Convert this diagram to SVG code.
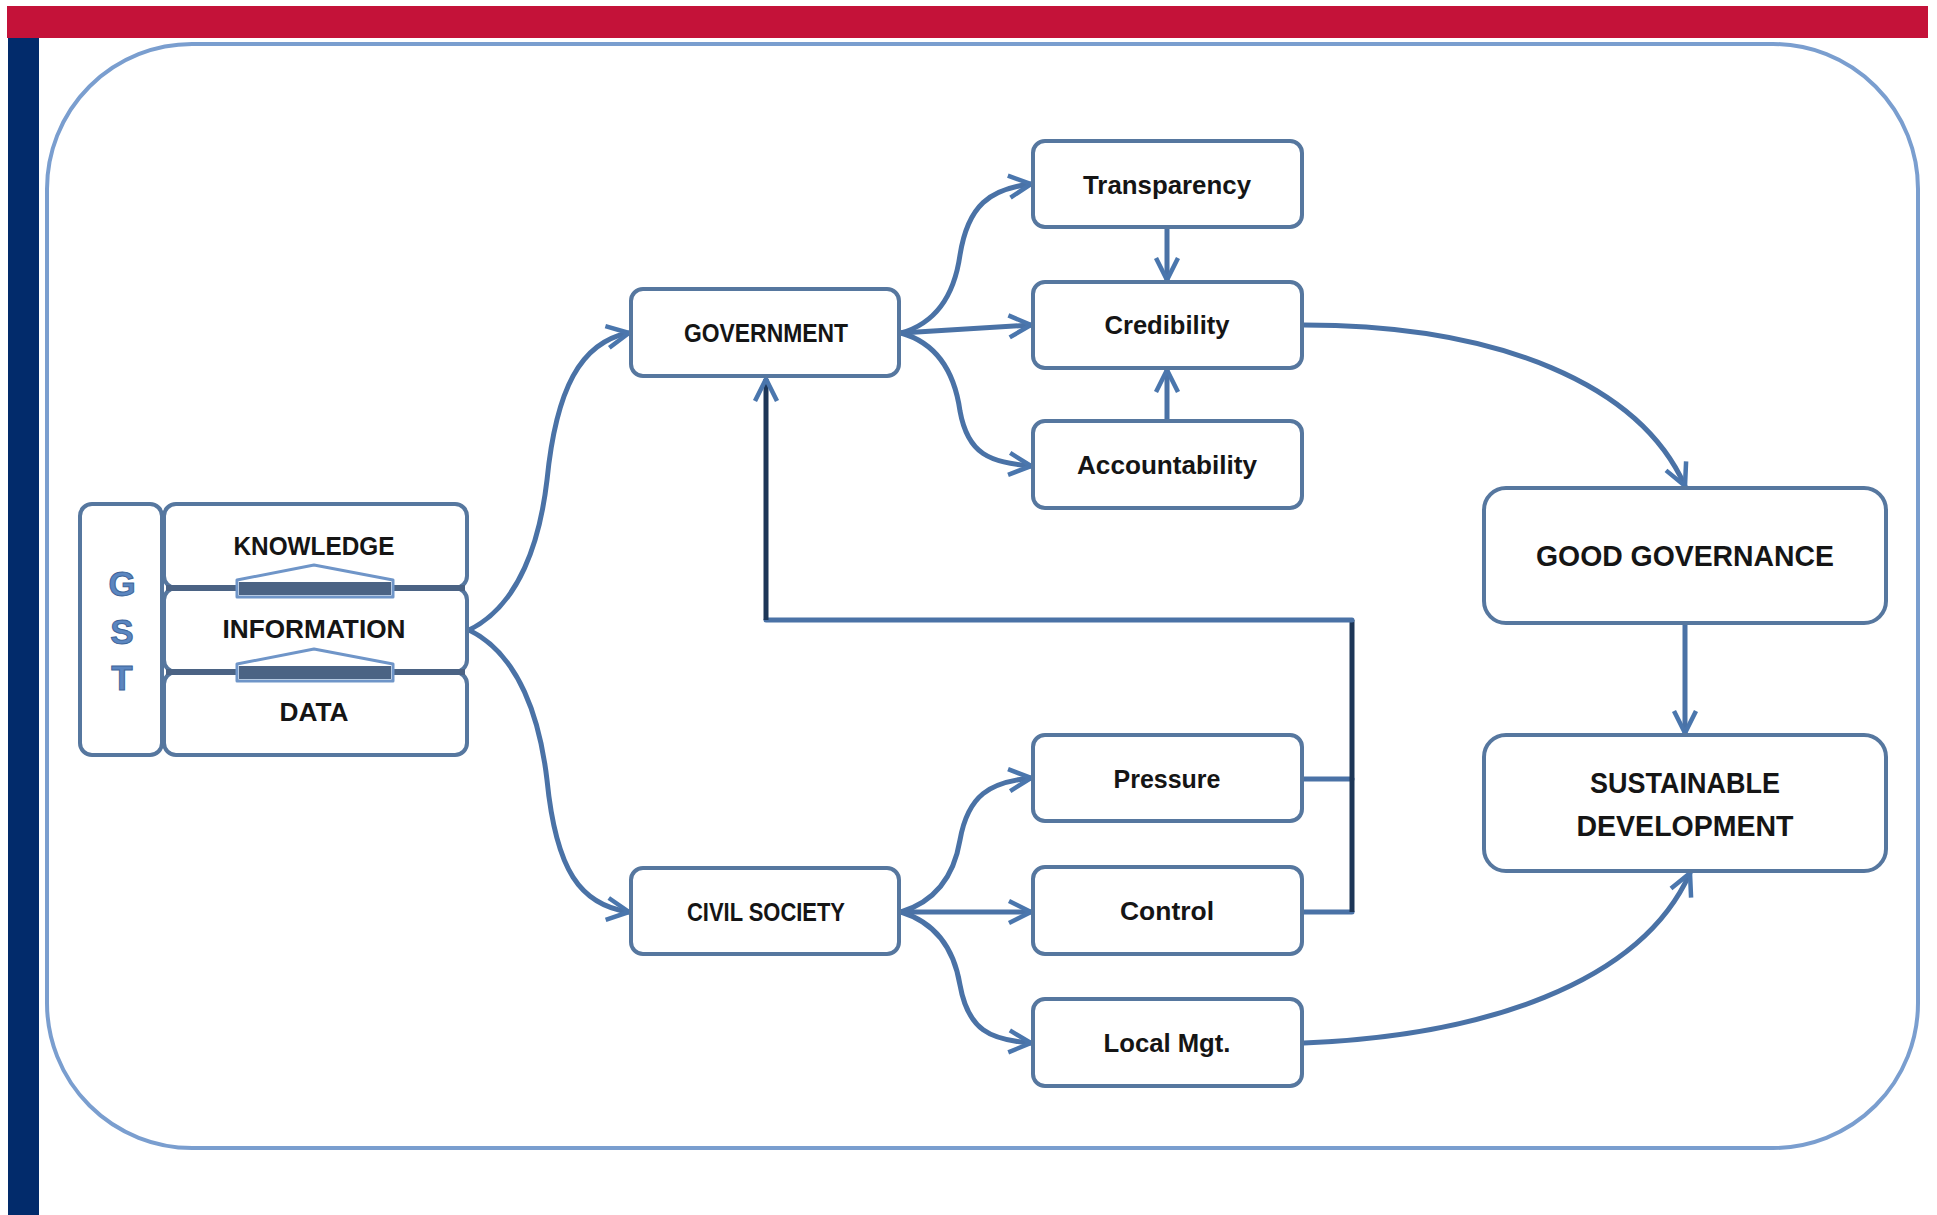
<svg xmlns="http://www.w3.org/2000/svg" width="1937" height="1215" viewBox="0 0 1937 1215">
<defs>
<marker id="arr" viewBox="0 0 28 28" refX="25" refY="14" markerWidth="28" markerHeight="28" markerUnits="userSpaceOnUse" orient="auto">
<path d="M3,3 L25,14 L3,25" fill="none" stroke="#4a76ad" stroke-width="4.5" stroke-linejoin="miter"/>
</marker>
<style>
.box{fill:#ffffff;stroke:#56779f;stroke-width:4}
.lbl{font-family:"Liberation Sans",Arial,sans-serif;font-weight:bold;fill:#151515;text-anchor:middle}
.s{font-size:26px}
.b{font-size:29px}
.gst{font-family:"Liberation Sans",Arial,sans-serif;font-weight:bold;font-size:35px;fill:#5b86c0;stroke:#3d6498;stroke-width:1;text-anchor:middle}
.con{fill:none;stroke:#4a72a6;stroke-width:5;stroke-linecap:round}
.dark{fill:none;stroke:#1d3657;stroke-width:5}
.sep{stroke:#4b6384;stroke-width:6}
.chev{fill:#ffffff;stroke:#6f95c8;stroke-width:3;stroke-linejoin:round}
.band{fill:#4b6384}
</style>
</defs>
<rect x="7" y="6" width="1921" height="32" fill="#c41239"/>
<rect x="8" y="38" width="31" height="1177" fill="#022b6b"/>
<rect x="47" y="44" width="1871" height="1104" rx="145" ry="145" fill="none" stroke="#7a9ecf" stroke-width="4"/>

<g id="connectors">
<path class="con" d="M469,630 C520,605 540,540 547,480 C556,390 580,342 629,333" marker-end="url(#arr)"/>
<path class="con" d="M469,630 C520,655 540,720 547,780 C556,870 580,905 629,912" marker-end="url(#arr)"/>
<path class="con" d="M901,333 C940,322 955,290 960,255 C968,205 990,189 1031,184" marker-end="url(#arr)"/>
<path class="con" d="M901,333 L1031,325" marker-end="url(#arr)"/>
<path class="con" d="M901,333 C940,344 955,376 960,411 C968,455 990,462 1031,466" marker-end="url(#arr)"/>
<path class="con" d="M1167,229 L1167,280" marker-end="url(#arr)"/>
<path class="con" d="M1167,420 L1167,370" marker-end="url(#arr)"/>
<path class="con" d="M1304,325 C1500,325 1640,385 1685,486" marker-end="url(#arr)"/>
<path class="con" d="M1685,625 L1685,733" marker-end="url(#arr)"/>
<path class="con" d="M1304,1043 C1480,1036 1640,985 1690,873" marker-end="url(#arr)"/>
<path class="con" d="M901,912 C940,900 955,870 960,840 C968,795 990,782 1031,778" marker-end="url(#arr)"/>
<path class="con" d="M901,912 L1031,912" marker-end="url(#arr)"/>
<path class="con" d="M901,912 C940,924 955,955 960,985 C968,1030 990,1040 1031,1043" marker-end="url(#arr)"/>
<path class="con" d="M1304,779 L1352,779"/>
<path class="con" d="M1304,912 L1352,912"/>
<path class="dark" d="M1352,912 L1352,620"/>
<path class="con" d="M1352,620 L766,620"/>
<path class="dark" d="M766,620 L766,379" marker-end="url(#arr)"/>
</g>

<g id="gst">
<rect class="box" x="80" y="504" width="82" height="251" rx="12"/>
<text class="gst" x="122" y="596">G</text>
<text class="gst" x="122" y="644">S</text>
<text class="gst" x="122" y="690">T</text>
</g>
<g id="knowledge">
<rect class="box" x="164" y="504" width="303" height="84" rx="12"/>
<text class="lbl s" x="314" y="555" textLength="161" lengthAdjust="spacingAndGlyphs">KNOWLEDGE</text>
</g>
<g id="information">
<rect class="box" x="164" y="588" width="303" height="84" rx="12"/>
<text class="lbl s" x="314" y="638" textLength="183" lengthAdjust="spacingAndGlyphs">INFORMATION</text>
</g>
<g id="data">
<rect class="box" x="164" y="672" width="303" height="83" rx="12"/>
<text class="lbl s" x="314" y="721" textLength="69" lengthAdjust="spacingAndGlyphs">DATA</text>
</g>
<g id="separators">
<line class="sep" x1="166" y1="588" x2="465" y2="588"/>
<line class="sep" x1="166" y1="672" x2="465" y2="672"/>
<path class="chev" d="M237,597 L237,580 L314,565 L393,580 L393,597 Z"/>
<rect class="band" x="239" y="582" width="152" height="13"/>
<path class="chev" d="M237,681 L237,664 L314,649 L393,664 L393,681 Z"/>
<rect class="band" x="239" y="666" width="152" height="13"/>
</g>

<g id="government">
<rect class="box" x="631" y="289" width="268" height="87" rx="12"/>
<text class="lbl s" x="766" y="342" textLength="164" lengthAdjust="spacingAndGlyphs">GOVERNMENT</text>
</g>
<g id="civil-society">
<rect class="box" x="631" y="868" width="268" height="86" rx="12"/>
<text class="lbl s" x="766" y="921" textLength="158" lengthAdjust="spacingAndGlyphs">CIVIL SOCIETY</text>
</g>
<g id="transparency">
<rect class="box" x="1033" y="141" width="269" height="86" rx="12"/>
<text class="lbl s" x="1167" y="194" textLength="168" lengthAdjust="spacingAndGlyphs">Transparency</text>
</g>
<g id="credibility">
<rect class="box" x="1033" y="282" width="269" height="86" rx="12"/>
<text class="lbl s" x="1167" y="334" textLength="125" lengthAdjust="spacingAndGlyphs">Credibility</text>
</g>
<g id="accountability">
<rect class="box" x="1033" y="421" width="269" height="87" rx="12"/>
<text class="lbl s" x="1167" y="474" textLength="180" lengthAdjust="spacingAndGlyphs">Accountability</text>
</g>
<g id="pressure">
<rect class="box" x="1033" y="735" width="269" height="86" rx="12"/>
<text class="lbl s" x="1167" y="788" textLength="107" lengthAdjust="spacingAndGlyphs">Pressure</text>
</g>
<g id="control">
<rect class="box" x="1033" y="867" width="269" height="87" rx="12"/>
<text class="lbl s" x="1167" y="920" textLength="94" lengthAdjust="spacingAndGlyphs">Control</text>
</g>
<g id="local-mgt">
<rect class="box" x="1033" y="999" width="269" height="87" rx="12"/>
<text class="lbl s" x="1167" y="1052" textLength="127" lengthAdjust="spacingAndGlyphs">Local Mgt.</text>
</g>
<g id="good-governance">
<rect class="box" x="1484" y="488" width="402" height="135" rx="22"/>
<text class="lbl b" x="1685" y="566" textLength="298" lengthAdjust="spacingAndGlyphs">GOOD GOVERNANCE</text>
</g>
<g id="sustainable-development">
<rect class="box" x="1484" y="735" width="402" height="136" rx="22"/>
<text class="lbl b" x="1685" y="793" textLength="190" lengthAdjust="spacingAndGlyphs">SUSTAINABLE</text>
<text class="lbl b" x="1685" y="836" textLength="217" lengthAdjust="spacingAndGlyphs">DEVELOPMENT</text>
</g>
</svg>
